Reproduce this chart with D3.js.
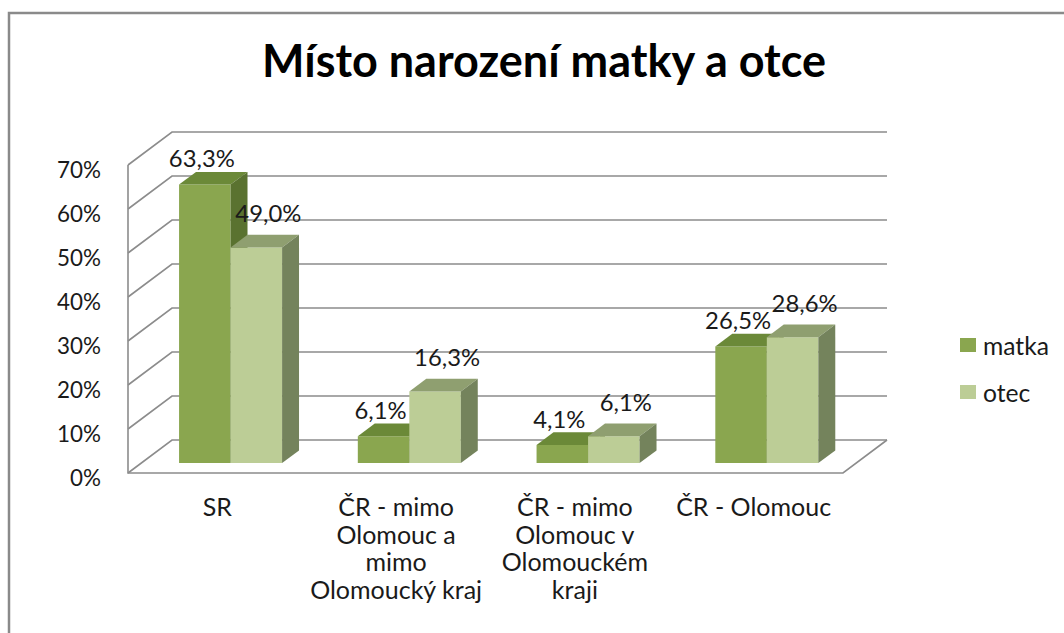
<!DOCTYPE html>
<html>
<head>
<meta charset="utf-8">
<script src="https://cdn.jsdelivr.net/npm/d3@7"></script>
<style>
  html, body { margin: 0; padding: 0; background: #ffffff; }
  svg { display: block; }
</style>
</head>
<body>
<div id="chart"></div>
<script>
// ---- data ----
const title = "Místo narození matky a otce";
const categories = ["SR", "ČR - mimo Olomouc a mimo Olomoucký kraj", "ČR - mimo Olomouc v Olomouckém kraji", "ČR - Olomouc"];
const categoryLines = [
  ["SR"],
  ["ČR - mimo", "Olomouc a", "mimo", "Olomoucký kraj"],
  ["ČR - mimo", "Olomouc v", "Olomouckém", "kraji"],
  ["ČR - Olomouc"]
];
const seriesNames = ["matka", "otec"];
const matka = [0.633, 0.061, 0.041, 0.265];
const otec  = [0.490, 0.163, 0.061, 0.286];
const yTicks = [0, 0.1, 0.2, 0.3, 0.4, 0.5, 0.6, 0.7];
const yTickLabels = ["0%", "10%", "20%", "30%", "40%", "50%", "60%", "70%"];

// ---- styles ----
const W = 1064, H = 633;
const FONT = "Lato, 'Open Sans', 'DejaVu Sans', sans-serif";
const colors = {
  matka: { front: "#8aa64f", top: "#6b8938", side: "#5a7230" },
  otec:  { front: "#bccd96", top: "#8f9f70", side: "#74835c" }
};
const gridColor = "#8c8c8c";
const textColor = "#1a1a1a";

const svg = d3.select("#chart").append("svg").attr("width", W).attr("height", H);

function fitSize(sample, target, weight) {
  const t = svg.append("text").attr("font-family", FONT).attr("font-size", 100)
    .attr("font-weight", weight || "normal").text(sample);
  const len = t.node().getComputedTextLength();
  t.remove();
  return 100 * target / len;
}
const titleSize = fitSize(title, 564, "bold");
const tickSize = fitSize("70%", 44);
const labelSize = fitSize("63,3%", 66);
const catSize = fitSize("Olomoucký kraj", 172);
const legSize = fitSize("matka", 66);

// outer frame
svg.append("rect").attr("x", 9).attr("y", 13).attr("width", 1200).attr("height", 800)
  .attr("fill", "none").attr("stroke", "#8a8a8a").attr("stroke-width", 2.5);

// title
svg.append("text").attr("x", 544).attr("y", 77).attr("text-anchor", "middle")
  .attr("font-family", FONT).attr("font-weight", "bold").attr("font-size", titleSize)
  .attr("fill", "#000").text(title);

// ---- 3D geometry ----
const fx0 = 128, fx1 = 843, fy0 = 473, DX = 44, DY = -33;
const d0 = 0.30, d1 = 0.685;
const y = d3.scaleLinear().domain([0, 0.7]).range([0, 308]);
const x = d3.scaleBand().domain(d3.range(categories.length)).range([fx0, fx1]);
const xs = d3.scaleBand().domain(seriesNames).range([0, x.bandwidth()]).paddingInner(0).paddingOuter(0.735);
function proj(xf, h, d) { return [xf + d * DX, fy0 - h + d * DY]; }
const line = d3.line();

// gridlines (left wall + back wall)
const grid = svg.append("g").attr("fill", "none").attr("stroke", gridColor).attr("stroke-width", 1.6);
yTicks.forEach(t => {
  const h = y(t);
  grid.append("path").attr("d", line([proj(fx0, h, 0), proj(fx0, h, 1), proj(fx1, h, 1)]));
});
// floor front & right edges, left front vertical
grid.append("path").attr("d", line([proj(fx0, y(0.7), 0), proj(fx0, 0, 0), proj(fx1, 0, 0), proj(fx1, 0, 1)]));

// y tick labels
svg.append("g").selectAll("text").data(yTicks).join("text")
  .attr("x", 101).attr("y", (t) => proj(fx0, y(t), 0)[1] + 4)
  .attr("text-anchor", "end").attr("dominant-baseline", "central")
  .attr("font-family", FONT).attr("font-size", tickSize).attr("fill", textColor)
  .text((t, i) => yTickLabels[i]);

// bars
const seriesData = { matka, otec };
const bars = svg.append("g");
const labelOffset = { matka: [-3, -14], otec: [12, -22] };
const labels = [];
categories.forEach((c, i) => {
  seriesNames.forEach(s => {
    const v = seriesData[s][i];
    const xl = x(i) + xs(s), xr = xl + xs.bandwidth();
    const h = y(v);
    const col = colors[s];
    bars.append("path").attr("fill", col.front)
      .attr("d", line([proj(xl, 0, d0), proj(xr, 0, d0), proj(xr, h, d0), proj(xl, h, d0)]) + "Z");
    bars.append("path").attr("fill", col.top)
      .attr("d", line([proj(xl, h, d0), proj(xr, h, d0), proj(xr, h, d1), proj(xl, h, d1)]) + "Z");
    bars.append("path").attr("fill", col.side)
      .attr("d", line([proj(xr, 0, d0), proj(xr, 0, d1), proj(xr, h, d1), proj(xr, h, d0)]) + "Z");
    labels.push({
      x: (xl + xr) / 2 + d0 * DX + labelOffset[s][0],
      y: proj(xl, h, d1)[1] + labelOffset[s][1],
      text: d3.format(".1f")(v * 100).replace(".", ",") + "%"
    });
  });
});

// data labels
svg.append("g").selectAll("text").data(labels).join("text")
  .attr("x", d => d.x).attr("y", d => d.y)
  .attr("text-anchor", "middle").attr("dominant-baseline", "central")
  .attr("font-family", FONT).attr("font-size", labelSize).attr("fill", textColor)
  .text(d => d.text);

// category labels
const cat = svg.append("g");
categoryLines.forEach((lines, i) => {
  const cx = x(i) + x.bandwidth() / 2;
  lines.forEach((ln, j) => {
    cat.append("text").attr("x", cx).attr("y", 516 + j * 27.5)
      .attr("text-anchor", "middle").attr("font-family", FONT).attr("font-size", catSize)
      .attr("fill", textColor).text(ln);
  });
});

// legend
const leg = svg.append("g");
seriesNames.forEach((s, i) => {
  const cy = 345 + i * 47;
  leg.append("rect").attr("x", 960).attr("y", cy - 7).attr("width", 16).attr("height", 14)
    .attr("fill", colors[s].front);
  leg.append("text").attr("x", 983).attr("y", cy).attr("dominant-baseline", "central")
    .attr("font-family", FONT).attr("font-size", legSize).attr("fill", textColor).text(s);
});
</script>
</body>
</html>
